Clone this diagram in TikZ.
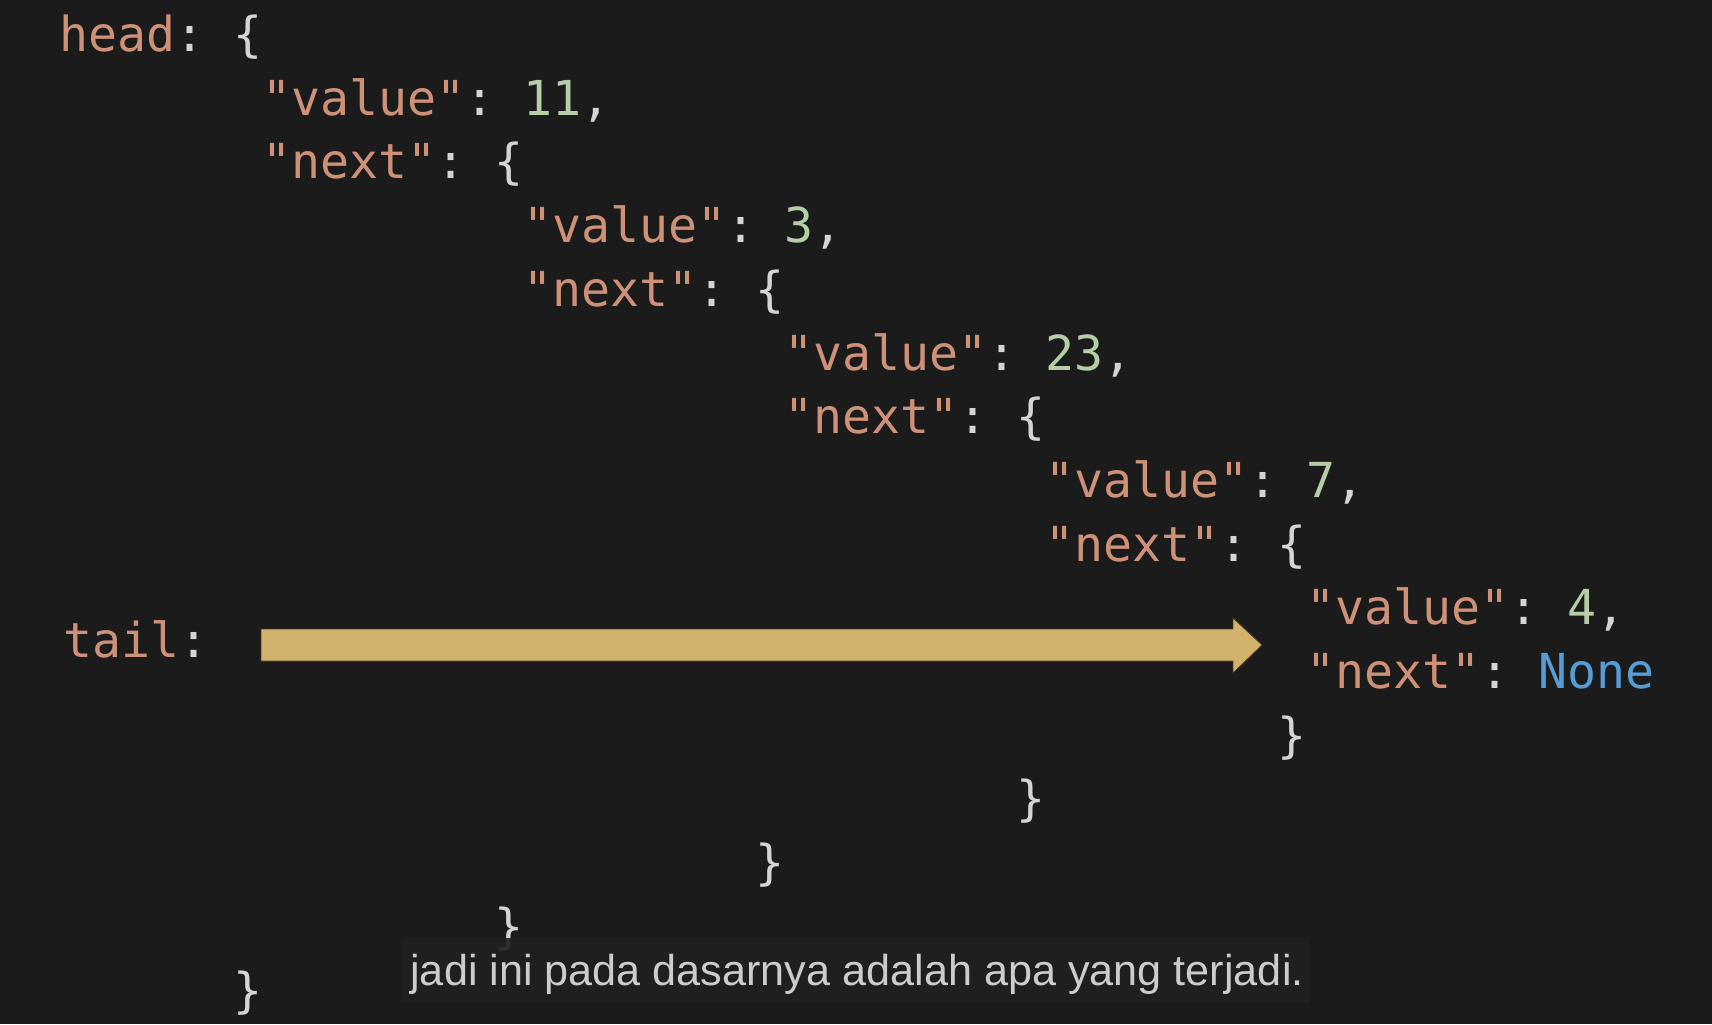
\documentclass[tikz,border=0pt]{standalone}
\usepackage{fontspec}
\setmainfont{Liberation Sans}
\setmonofont{DejaVu Sans Mono}
\definecolor{bgc}{HTML}{1B1B1B}
\definecolor{keyc}{HTML}{CE9178}
\definecolor{numc}{HTML}{B5CEA8}
\definecolor{nonec}{HTML}{569CD6}
\definecolor{punc}{HTML}{D4D4D4}
\definecolor{arrc}{HTML}{D2B36E}
\definecolor{arredge}{HTML}{4A3C22}
\definecolor{subbg}{HTML}{202022}
\definecolor{subtx}{HTML}{CCCCCC}
\newcommand{\jkey}[1]{\textcolor{keyc}{#1}}
\newcommand{\jnum}[1]{\textcolor{numc}{#1}}
\newcommand{\jpun}[1]{\textcolor{punc}{#1}}
\newcommand{\jnone}[1]{\textcolor{nonec}{#1}}
\begin{document}
\begin{tikzpicture}[x=0.5pt,y=-0.5pt,
  code/.style={anchor=base west,inner sep=0pt,outer sep=0pt,font=\ttfamily\fontsize{24.1}{28}\selectfont},
  subtitle/.style={anchor=base west,inner sep=0pt,text=subtx,font=\rmfamily\fontsize{21.6}{25}\selectfont},
  bigarrow/.style={fill=arrc,draw=arredge,line width=0.4pt}]
\fill[bgc] (0,0) rectangle (1712,1024);
\useasboundingbox (0,0) rectangle (1712,1024);
% columns: x = 59.3 + 29*c ; baselines: y = 51.5 + 63.7*k
\node[code] (l0)  at (59.3,51.5)    {\jkey{head}\jpun{: \{}};
\node[code] (l1)  at (262.3,115.2)  {\jkey{"value"}\jpun{: }\jnum{11}\jpun{,}};
\node[code] (l2)  at (262.3,178.9)  {\jkey{"next"}\jpun{: \{}};
\node[code] (l3)  at (523.3,242.6)  {\jkey{"value"}\jpun{: }\jnum{3}\jpun{,}};
\node[code] (l4)  at (523.3,306.3)  {\jkey{"next"}\jpun{: \{}};
\node[code] (l5)  at (784.3,370.0)  {\jkey{"value"}\jpun{: }\jnum{23}\jpun{,}};
\node[code] (l6)  at (784.3,433.7)  {\jkey{"next"}\jpun{: \{}};
\node[code] (l7)  at (1045.3,497.4) {\jkey{"value"}\jpun{: }\jnum{7}\jpun{,}};
\node[code] (l8)  at (1045.3,561.1) {\jkey{"next"}\jpun{: \{}};
\node[code] (l9)  at (1306.3,624.8) {\jkey{"value"}\jpun{: }\jnum{4}\jpun{,}};
\node[code] (l10) at (1306.3,688.5) {\jkey{"next"}\jpun{: }\jnone{None}};
\node[code] (l11) at (1277.3,752.2) {\jpun{\}}};
\node[code] (l12) at (1016.3,815.9) {\jpun{\}}};
\node[code] (l13) at (755.3,879.6)  {\jpun{\}}};
\node[code] (l14) at (494.3,943.3)  {\jpun{\}}};
\node[code] (l15) at (233.3,1007.0) {\jpun{\}}};
\node[code] (tailLbl) at (63,657) {\jkey{tail}\jpun{:}};
% big arrow from tail to the last node
\coordinate (arrS) at (261,645);
\coordinate (arrE) at (1262,645);
\fill[bigarrow] (arrS) ++(0,-16) -- ++(972,0) -- ++(0,-11) -- (arrE) -- ++(-29,28) -- ++(0,-12) -- ++(-972,0) -- cycle;
% subtitle
\fill[subbg,opacity=0.92] (401,938) rectangle (1310,1003);
\node[subtitle] (sub) at (410,985) {jadi ini pada dasarnya adalah apa yang terjadi.};
\end{tikzpicture}
\end{document}
